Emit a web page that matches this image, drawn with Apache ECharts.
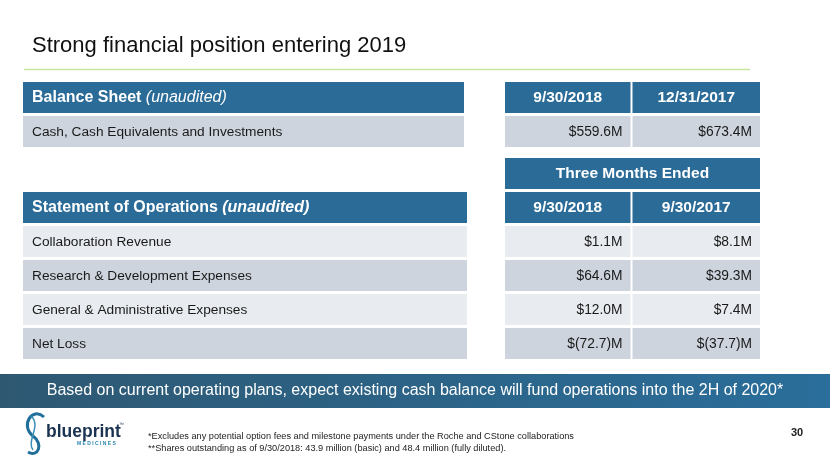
<!DOCTYPE html>
<html><head><meta charset="utf-8">
<script src="https://cdn.jsdelivr.net/npm/echarts@6/dist/echarts.min.js"></script>
<style>html,body{margin:0;padding:0;background:#fff}#c{width:830px;height:467px}</style>
</head><body><div id="c"></div>
<script>
// ---- data ----
const titleText = 'Strong financial position entering 2019';
const bsTitle = 'Balance Sheet';
const bsColumns = ['9/30/2018', '12/31/2017'];
const bsRows = ['Cash, Cash Equivalents and Investments'];
const bsValues = [[559.6, 673.4]];
const opsTitle = 'Statement of Operations';
const opsGroup = 'Three Months Ended';
const opsColumns = ['9/30/2018', '9/30/2017'];
const opsRows = ['Collaboration Revenue', 'Research & Development Expenses', 'General & Administrative Expenses', 'Net Loss'];
const ops2018 = [1.1, 64.6, 12.0, -72.7];
const ops2017 = [8.1, 39.3, 7.4, -37.7];
const bannerText = 'Based on current operating plans, expect existing cash balance will fund operations into the 2H of 2020*';
const footnotes = ['*Excludes any potential option fees and milestone payments under the Roche and CStone collaborations',
  '**Shares outstanding as of 9/30/2018: 43.9 million (basic) and 48.4 million (fully diluted).'];
const pageNumber = '30';

// ---- styles ----
const FONT = '"Liberation Sans", Arial, Helvetica, sans-serif';
const HDR = '#2A6B97';
const ROW_DARK = '#CDD4DE';
const ROW_LIGHT = '#E8EBEF';
const TXT = '#1A1A1A';

function fmt(v) { return v < 0 ? '$(' + Math.abs(v).toFixed(1) + ')M' : '$' + v.toFixed(1) + 'M'; }

// cell lists built from data
const bsLabelCells = [
  { kind: 'hdr', text: '{b|' + bsTitle + ' }{i|(unaudited)}', align: 'left' },
  ...bsRows.map(r => ({ kind: 'row', text: r, fill: ROW_DARK, align: 'left' }))
];
const bsValueCells = [];
bsColumns.forEach((c, ci) => bsValueCells.push({ col: ci, row: 0, kind: 'hdr', text: c, align: 'center', last: ci === bsColumns.length - 1 }));
bsValues.forEach((vals, ri) => vals.forEach((v, ci) => bsValueCells.push({ col: ci, row: ri + 1, kind: 'row', text: fmt(v), fill: ROW_DARK, align: 'right', last: ci === vals.length - 1 })));

const opsLabelCells = [
  { row: 1, kind: 'hdr', text: '{b|' + opsTitle + ' }{bi|(unaudited)}', align: 'left' },
  ...opsRows.map((r, i) => ({ row: i + 2, kind: 'row', text: r, fill: i % 2 ? ROW_DARK : ROW_LIGHT, align: 'left' }))
];
const opsValueCells = [{ col: 0, row: 0, kind: 'hdr', text: opsGroup, align: 'center', span: 2, last: true }];
opsColumns.forEach((c, ci) => opsValueCells.push({ col: ci, row: 1, kind: 'hdr', text: c, align: 'center', last: ci === opsColumns.length - 1 }));
[ops2018, ops2017].forEach((arr, ci) => arr.forEach((v, ri) => opsValueCells.push({ col: ci, row: ri + 2, kind: 'row', text: fmt(v), fill: ri % 2 ? ROW_DARK : ROW_LIGHT, align: 'right', last: ci === 1 })));

function renderFactory(cells) {
  return function (params, api) {
    const c = cells[params.dataIndex];
    const p = api.coord([api.value(0), api.value(1)]);
    const sz = api.size([1, 1]);
    const bw = sz[0] * (c.span || 1);
    const x = p[0] - sz[0] / 2;
    const y = p[1] - sz[1] / 2;
    const w = bw - (c.last ? 0 : 2);
    const h = sz[1] - 3;
    const isH = c.kind === 'hdr';
    let tx = x + 9;
    if (c.align === 'right') tx = x + w - 8;
    if (c.align === 'center') tx = x + w / 2;
    const isLabel = c.align === 'left';
    return {
      type: 'group',
      children: [
        { type: 'rect', shape: { x: x, y: y, width: w, height: h }, style: { fill: isH ? HDR : c.fill } },
        { type: 'text', style: {
            text: c.text, x: tx, y: y + h / 2 + 0.5, align: c.align, verticalAlign: 'middle',
            fill: isH ? '#fff' : TXT,
            font: (isH ? 'bold 15.5px ' : (isLabel ? '13.7px ' : '13.8px ')) + FONT,
            rich: {
              b: { fontFamily: FONT, fontWeight: 'bold', fontSize: 16, fill: '#fff' },
              i: { fontFamily: FONT, fontStyle: 'italic', fontSize: 16, fill: '#fff' },
              bi: { fontFamily: FONT, fontStyle: 'italic', fontWeight: 'bold', fontSize: 16, fill: '#fff' }
            }
          } }
      ]
    };
  };
}

const hiddenAxis = { show: false };
const grids = [
  { left: 23, width: 443, top: 82, height: 68 },
  { left: 505, width: 255, top: 82, height: 68 },
  { left: 23, width: 446, top: 158, height: 204 },
  { left: 505, width: 255, top: 158, height: 204 }
];
const bsRowCats = ['hdr', ...bsRows];
const opsRowCats = ['group', 'hdr', ...opsRows];

const option = {
  animation: false,
  grid: grids,
  xAxis: [
    { gridIndex: 0, type: 'category', data: ['label'], ...hiddenAxis },
    { gridIndex: 1, type: 'category', data: bsColumns, ...hiddenAxis },
    { gridIndex: 2, type: 'category', data: ['label'], ...hiddenAxis },
    { gridIndex: 3, type: 'category', data: opsColumns, ...hiddenAxis }
  ],
  yAxis: [
    { gridIndex: 0, type: 'category', data: bsRowCats, inverse: true, ...hiddenAxis },
    { gridIndex: 1, type: 'category', data: bsRowCats, inverse: true, ...hiddenAxis },
    { gridIndex: 2, type: 'category', data: opsRowCats, inverse: true, ...hiddenAxis },
    { gridIndex: 3, type: 'category', data: opsRowCats, inverse: true, ...hiddenAxis }
  ],
  series: [
    { type: 'custom', xAxisIndex: 0, yAxisIndex: 0, renderItem: renderFactory(bsLabelCells), data: bsLabelCells.map((c, i) => [0, i]) },
    { type: 'custom', xAxisIndex: 1, yAxisIndex: 1, renderItem: renderFactory(bsValueCells), data: bsValueCells.map(c => [c.col, c.row]) },
    { type: 'custom', xAxisIndex: 2, yAxisIndex: 2, renderItem: renderFactory(opsLabelCells), data: opsLabelCells.map(c => [0, c.row]) },
    { type: 'custom', xAxisIndex: 3, yAxisIndex: 3, renderItem: renderFactory(opsValueCells), data: opsValueCells.map(c => [c.col, c.row]) }
  ],
  graphic: [
    { type: 'text', x: 32, y: 46, style: { text: titleText, font: '22px ' + FONT, fill: '#111', verticalAlign: 'middle' } },
    { type: 'line', shape: { x1: 24, y1: 69.5, x2: 750, y2: 69.5 }, style: { stroke: '#C8E6A0', lineWidth: 1.5 } },
    { type: 'rect', shape: { x: 0, y: 374, width: 830, height: 34 },
      style: { fill: new echarts.graphic.LinearGradient(0, 0, 1, 0, [{ offset: 0, color: '#2E5872' }, { offset: 1, color: '#2A6E9B' }]) } },
    { type: 'text', x: 415, y: 391, style: { text: bannerText, font: '16px ' + FONT, fill: '#fff', align: 'center', verticalAlign: 'middle' } },
    { type: 'text', x: 148, y: 436, style: { text: footnotes[0], font: '9.2px ' + FONT, fill: '#222', verticalAlign: 'middle' } },
    { type: 'text', x: 148, y: 448, style: { text: footnotes[1], font: '9.2px ' + FONT, fill: '#222', verticalAlign: 'middle' } },
    { type: 'text', x: 797, y: 433, style: { text: pageNumber, font: 'bold 11px ' + FONT, fill: '#222', align: 'center', verticalAlign: 'middle' } },
    // logo
    { type: 'bezierCurve', shape: { x1: 44, y1: 417, cpx1: 32, cpy1: 406, cpx2: 20, cpy2: 426, x2: 33, y2: 436 },
      style: { stroke: '#1F6F9A', lineWidth: 3, fill: null } },
    { type: 'bezierCurve', shape: { x1: 33, y1: 436, cpx1: 44, cpy1: 444, cpx2: 38, cpy2: 458, x2: 28, y2: 452 },
      style: { stroke: '#1F6F9A', lineWidth: 3, fill: null } },
    { type: 'bezierCurve', shape: { x1: 31, y1: 416, cpx1: 42, cpy1: 426, cpx2: 26, cpy2: 440, x2: 33, y2: 450 },
      style: { stroke: '#3A8DB8', lineWidth: 1.5, fill: null } },
    { type: 'text', x: 46, y: 432, style: { text: 'blueprint', font: 'bold 17.5px ' + FONT, fill: '#1B3350', verticalAlign: 'middle' } },
    { type: 'text', x: 119, y: 425, style: { text: '™', font: '5px ' + FONT, fill: '#1B3350', verticalAlign: 'middle' } },
    { type: 'text', x: 77, y: 444, style: { text: 'M E D I C I N E S', font: 'bold 5px ' + FONT, fill: '#2A86B0', verticalAlign: 'middle' } }
  ]
};
echarts.init(document.getElementById('c'), null, { renderer: 'canvas' }).setOption(option);
</script></body></html>
